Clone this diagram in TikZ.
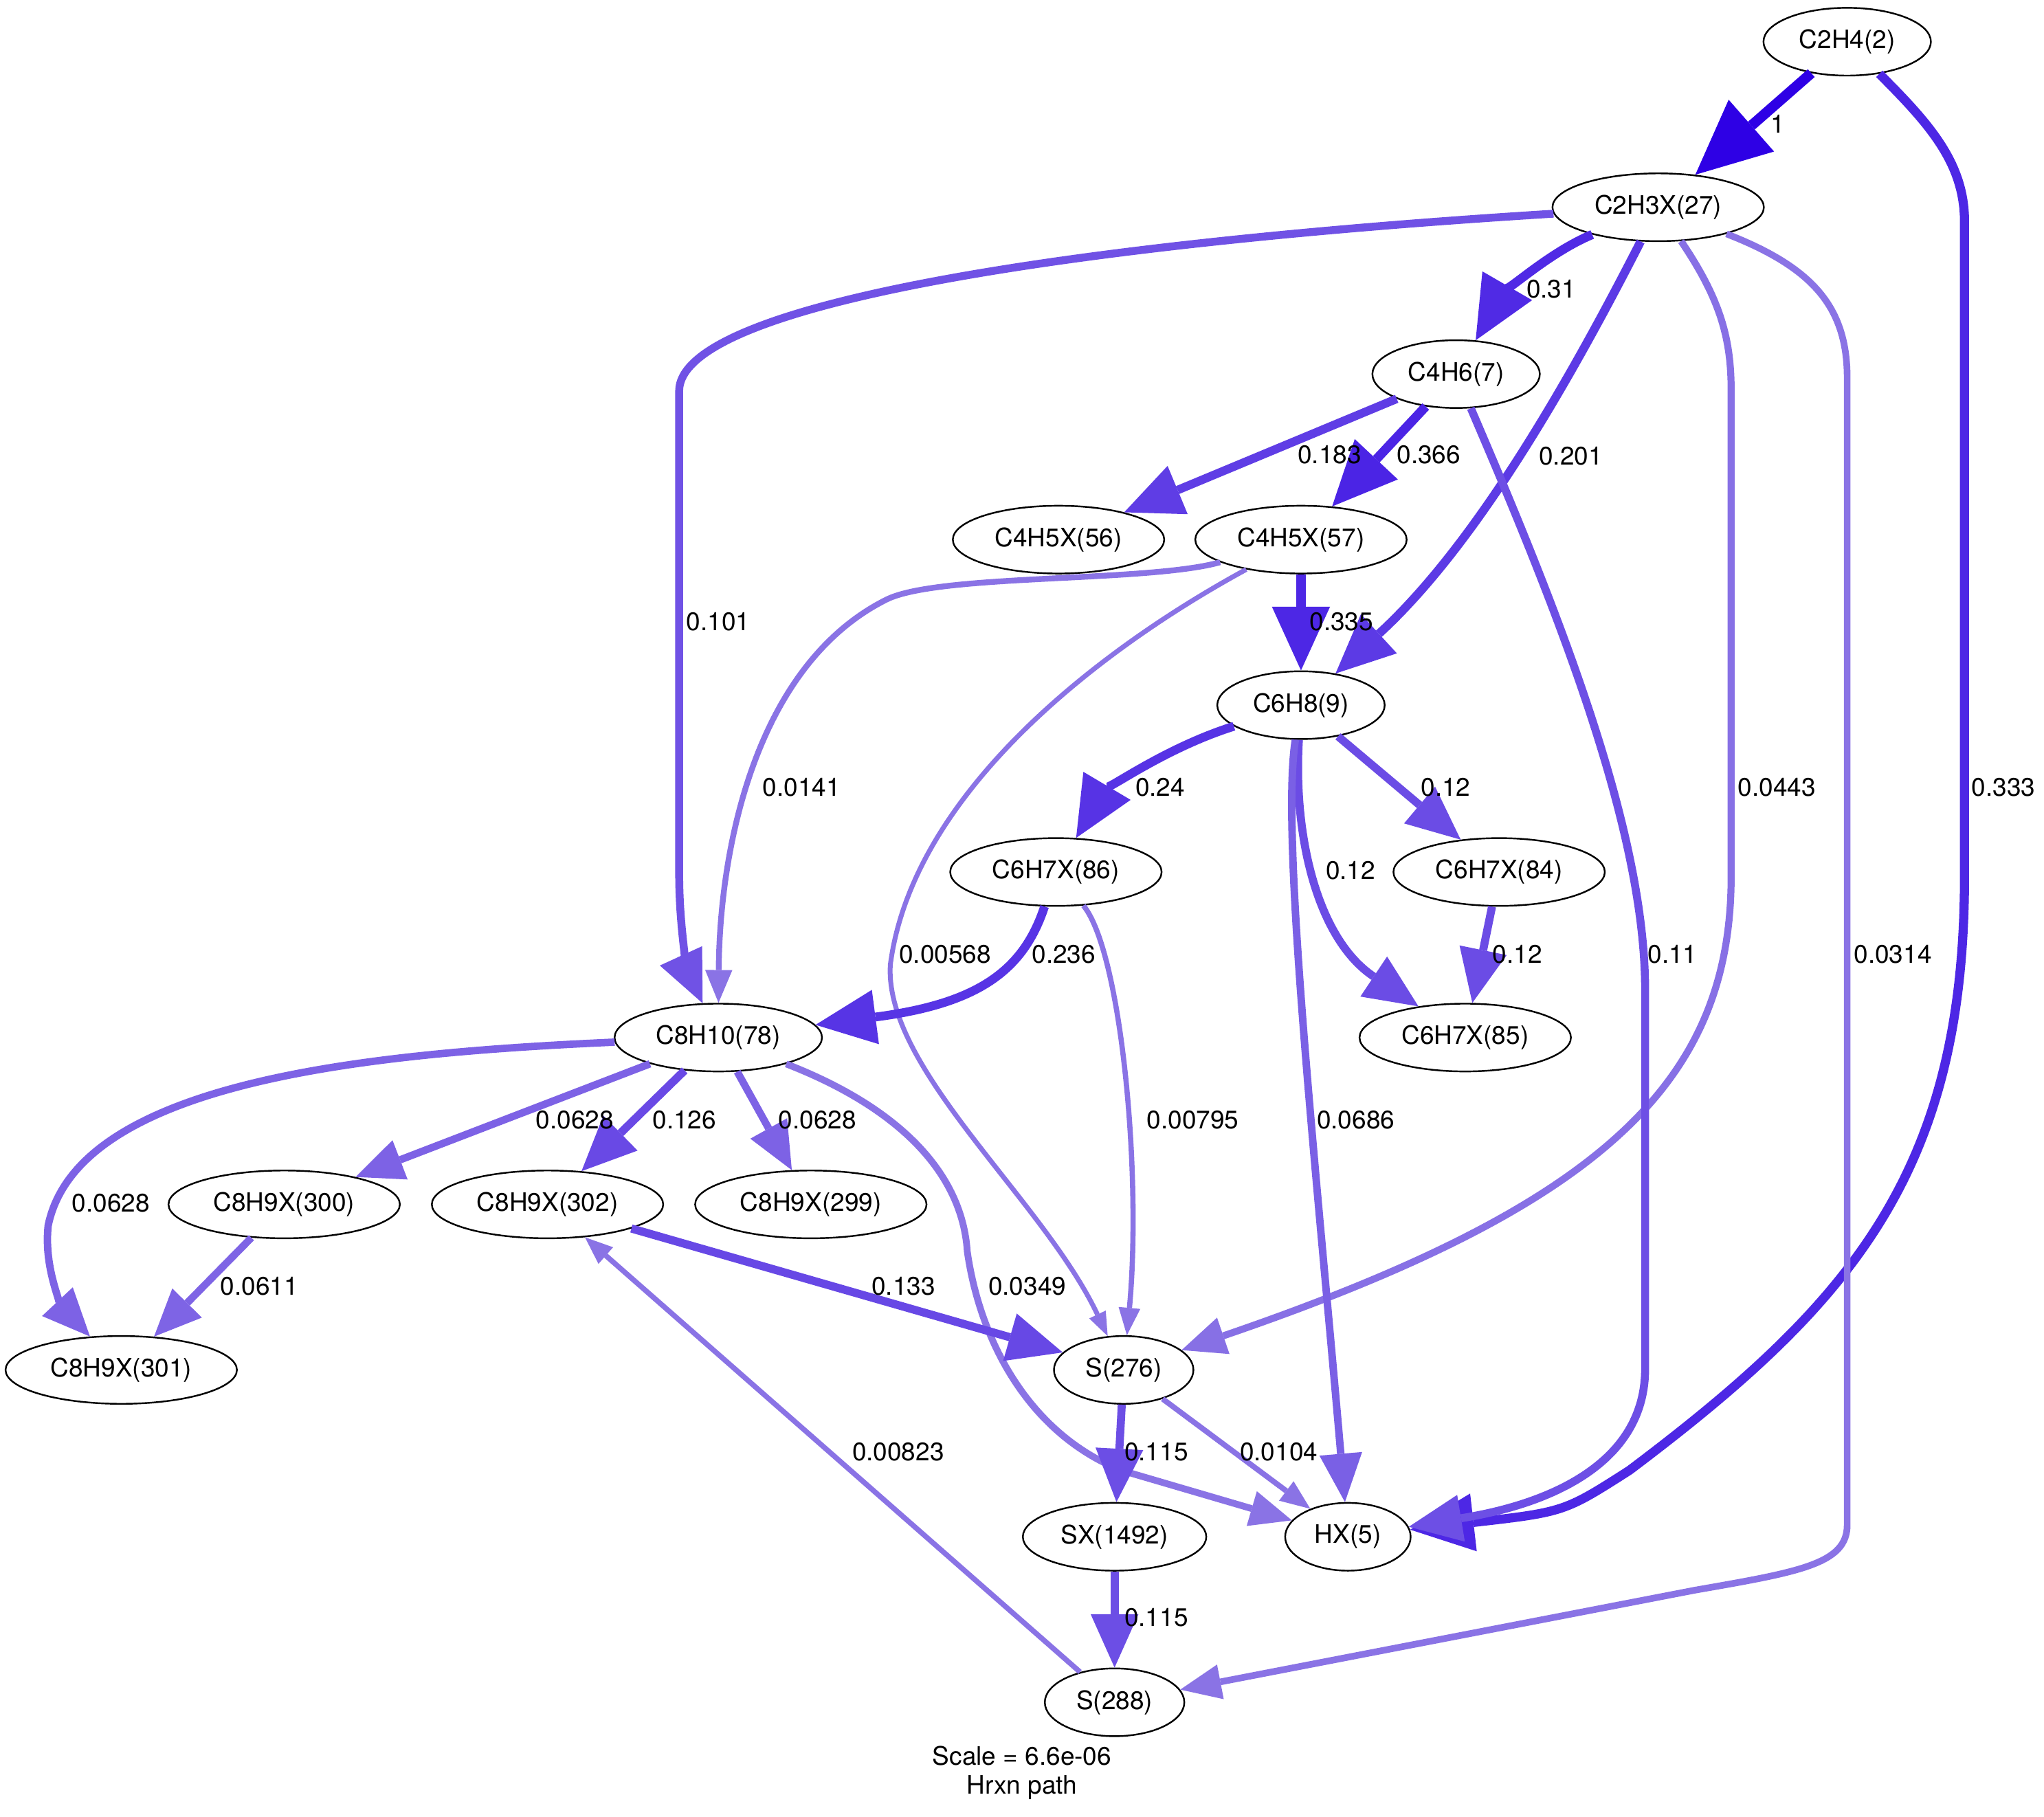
\documentclass[tikz,border=0pt]{standalone}
\usepackage{fontspec}
\setmainfont{TeX Gyre Heros}
\usepackage{tikz}
\usetikzlibrary{arrows.meta, shapes.geometric}
\newcommand{\gvfont}{\fontsize{13.65pt}{15.6pt}\selectfont}

\begin{document}
\begin{tikzpicture}[
    x=0.7pt, y=-0.7pt,
    species/.style={draw, ellipse, line width=0.9pt, minimum height=36.4pt, inner xsep=6pt, inner ysep=2pt, font=\gvfont},
    fluxlabel/.style={inner sep=0pt, font=\gvfont},
    flow/.style={
        /utils/exec={\pgfmathsetmacro\flowwd{5.53+1.31*log10(#1)}%
            \pgfmathsetmacro\flowhl{40+12.1*log10(#1)}%
            \pgfmathsetmacro\flowhw{\flowhl-3}%
            \pgfmathsetmacro\flowsat{max(0.5,1+0.36*log10(#1))}%
            \pgfmathsetmacro\flowr{0.9*(1-0.8*\flowsat)}%
            \pgfmathsetmacro\flowg{0.9*(1-\flowsat)}%
            \definecolor{flowcol}{rgb}{\flowr,\flowg,0.9}},
        draw=flowcol, line width=\flowwd pt,
        -{Triangle[length=\flowhl pt, width=\flowhw pt, line width=0pt]}
    }
]
\useasboundingbox (0,0) rectangle (1568,1394);

% Species
\node[species] (c2h4) at (1417,32) {C2H4(2)};
\node[species] (c2h3x) at (1272,159) {C2H3X(27)};
\node[species] (c4h6) at (1117,287) {C4H6(7)};
\node[species] (c4h5xa) at (812,414) {C4H5X(56)};
\node[species] (c4h5xb) at (998,414) {C4H5X(57)};
\node[species] (c6h8) at (998,541) {C6H8(9)};
\node[species] (c6h7xc) at (810,669) {C6H7X(86)};
\node[species] (c6h7xa) at (1150,669) {C6H7X(84)};
\node[species] (c6h7xb) at (1124,796) {C6H7X(85)};
\node[species] (c8h10) at (551,796) {C8H10(78)};
\node[species] (c8h9xb) at (218,924) {C8H9X(300)};
\node[species] (c8h9xd) at (420,924) {C8H9X(302)};
\node[species] (c8h9xa) at (622,924) {C8H9X(299)};
\node[species] (c8h9xc) at (93,1051) {C8H9X(301)};
\node[species] (s276) at (862,1051) {S(276)};
\node[species] (sx) at (855,1179) {SX(1492)};
\node[species] (hx) at (1034,1179) {HX(5)};
\node[species] (s288) at (855,1306) {S(288)};

% From C2H4 and C2H3X
\draw[flow=1] (c2h4) -- (c2h3x);
\draw[flow=0.333] (c2h4) .. controls (1480,95) and (1507,125) .. (1507,170) -- (1507,672)
    .. controls (1507,900) and (1420,1000) .. (1250,1128) .. controls (1200,1160) .. (hx);
\draw[flow=0.31] (c2h3x) .. controls (1185,195) and (1150,230) .. (c4h6);
\draw[flow=0.201] (c2h3x) .. controls (1200,300) and (1130,420) .. (c6h8);
\draw[flow=0.101] (c2h3x) .. controls (850,185) and (521,230) .. (521,300) -- (521,670)
    .. controls (521,720) and (530,750) .. (c8h10);
\draw[flow=0.0443] (c2h3x) .. controls (1320,230) and (1328,260) .. (1328,300) -- (1328,672)
    .. controls (1328,830) and (1230,925) .. (s276);
\draw[flow=0.0314] (c2h3x) .. controls (1390,205) and (1417,235) .. (1417,290) -- (1417,1170)
    .. controls (1417,1200) and (1380,1206) .. (1300,1220) -- (s288);

% From C4H6 and C4H5X
\draw[flow=0.183] (c4h6) -- (c4h5xa);
\draw[flow=0.366] (c4h6) -- (c4h5xb);
\draw[flow=0.11] (c4h6) .. controls (1200,480) and (1262,640) .. (1262,760) -- (1262,1050)
    .. controls (1262,1140) and (1150,1160) .. (hx);
\draw[flow=0.335] (c4h5xb) -- (c6h8);
\draw[flow=0.0141] (c4h5xb) .. controls (880,447) and (720,440) .. (680,460)
    .. controls (580,510) and (552,650) .. (c8h10);
\draw[flow=0.00568] (c4h5xb) .. controls (840,500) and (700,610) .. (683,740)
    .. controls (678,820) and (800,920) .. (s276);

% From C6H8 and C6H7X
\draw[flow=0.24] (c6h8) .. controls (890,575) and (845,610) .. (c6h7xc);
\draw[flow=0.12] (c6h8) -- (c6h7xa);
\draw[flow=0.12] (c6h8) .. controls (992,640) and (1010,720) .. (c6h7xb);
\draw[flow=0.0686] (c6h8) .. controls (982,640) and (1010,900) .. (hx);
\draw[flow=0.12] (c6h7xa) -- (c6h7xb);
\draw[flow=0.236] (c6h7xc) .. controls (785,745) and (750,770) .. (c8h10);
\draw[flow=0.00795] (c6h7xc) .. controls (860,730) and (876,900) .. (s276);

% From C8H10 and C8H9X
\draw[flow=0.0628] (c8h10) .. controls (280,808) and (60,830) .. (37,940)
    .. controls (33,975) and (50,1005) .. (c8h9xc);
\draw[flow=0.0628] (c8h10) -- (c8h9xb);
\draw[flow=0.126] (c8h10) -- (c8h9xd);
\draw[flow=0.0628] (c8h10) -- (c8h9xa);
\draw[flow=0.0349] (c8h10) .. controls (690,850) and (738,900) .. (742,960)
    .. controls (752,1030) and (790,1100) .. (860,1128) -- (hx);
\draw[flow=0.0611] (c8h9xb) -- (c8h9xc);
\draw[flow=0.133] (c8h9xd) -- (s276);

% From S(276), SX and S(288)
\draw[flow=0.115] (s276) -- (sx);
\draw[flow=0.0104] (s276) -- (hx);
\draw[flow=0.115] (sx) -- (s288);
\draw[flow=0.00823] (s288) -- (c8h9xd);

% Flux labels
\node[fluxlabel] (f1) at (1364,95) {1};
\node[fluxlabel] (f333) at (1537,604) {0.333};
\node[fluxlabel] (f31) at (1190,222) {0.31};
\node[fluxlabel] (f201) at (1205,350) {0.201};
\node[fluxlabel] (f101) at (551,477) {0.101};
\node[fluxlabel] (f0443) at (1363,604) {0.0443};
\node[fluxlabel] (f0314) at (1452,732) {0.0314};
\node[fluxlabel] (f183) at (1020,349) {0.183};
\node[fluxlabel] (f366) at (1096,349) {0.366};
\node[fluxlabel] (f11) at (1283,732) {0.11};
\node[fluxlabel] (f335) at (1029,477) {0.335};
\node[fluxlabel] (f0141) at (615,604) {0.0141};
\node[fluxlabel] (f00568) at (725,732) {0.00568};
\node[fluxlabel] (f24) at (890,604) {0.24};
\node[fluxlabel] (f12a) at (1109,604) {0.12};
\node[fluxlabel] (f12b) at (1036,668) {0.12};
\node[fluxlabel] (f0686) at (1040,859) {0.0686};
\node[fluxlabel] (f12c) at (1164,732) {0.12};
\node[fluxlabel] (f236) at (816,732) {0.236};
\node[fluxlabel] (f00795) at (915,859) {0.00795};
\node[fluxlabel] (f0628a) at (85,923) {0.0628};
\node[fluxlabel] (f0628b) at (441,859) {0.0628};
\node[fluxlabel] (f126) at (525,859) {0.126};
\node[fluxlabel] (f0628c) at (627,859) {0.0628};
\node[fluxlabel] (f0349) at (788,987) {0.0349};
\node[fluxlabel] (f0611) at (199,987) {0.0611};
\node[fluxlabel] (f133) at (693,987) {0.133};
\node[fluxlabel] (f115a) at (887,1114) {0.115};
\node[fluxlabel] (f0104) at (981,1114) {0.0104};
\node[fluxlabel] (f115b) at (887,1241) {0.115};
\node[fluxlabel] (f00823) at (689,1114) {0.00823};

% Caption
\node[align=center, font=\gvfont] (caption) at (784,1360) {Scale = 6.6e-06\\Hrxn path};

\end{tikzpicture}
\end{document}
